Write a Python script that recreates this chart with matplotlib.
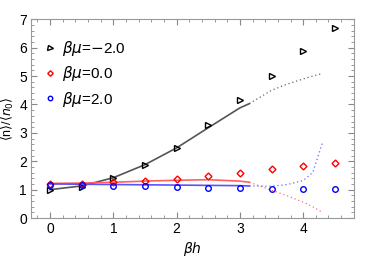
import numpy as np
import matplotlib
matplotlib.use('Agg')
import matplotlib.pyplot as plt
from matplotlib.ticker import MultipleLocator

plt.rcParams['font.family'] = ['Liberation Sans', 'DejaVu Sans']
plt.rcParams['mathtext.fontset'] = 'dejavusans'

# data points
bh = [0, 0.5, 1, 1.5, 2, 2.5, 3, 3.5, 4, 4.5]
n_m2 = [0.99, 1.08, 1.40, 1.87, 2.47, 3.28, 4.16, 5.02, 5.90, 6.70]
n_0 = [1.19, 1.21, 1.26, 1.32, 1.38, 1.48, 1.60, 1.71, 1.83, 1.93]
n_p2 = [1.17, 1.16, 1.14, 1.12, 1.10, 1.06, 1.05, 1.03, 1.03, 1.03]

# theory curves: solid part and dotted continuation
x_sol = [0, 0.5, 1, 1.5, 2, 2.5, 3, 3.15]
m2_sol = [1.00, 1.13, 1.42, 1.88, 2.47, 3.18, 3.88, 4.03]
z_sol = [1.22, 1.23, 1.26, 1.30, 1.33, 1.35, 1.30, 1.26]
p2_sol = [1.20, 1.19, 1.18, 1.17, 1.16, 1.15, 1.14, 1.13]

x_dot = [3.15, 3.5, 3.75, 4.0, 4.15, 4.3]
m2_dot = [4.03, 4.50, 4.72, 4.90, 5.00, 5.09]
z_dot = [1.26, 0.98, 0.78, 0.56, 0.40, 0.20]
p2_dot = [1.13, 1.12, 1.18, 1.32, 1.60, 2.62]

fig = plt.figure(figsize=(3.74, 2.58), dpi=100)
ax = fig.add_axes([0.083, 0.155, 0.863, 0.77])

dot = (0, (1, 2.2))
ax.plot(x_sol, m2_sol, color='#555555', lw=1.2)
ax.plot(x_dot, m2_dot, color='#666666', lw=0.9, ls=dot)
ax.plot(x_sol, z_sol, color='#ff6060', lw=1.2)
ax.plot(x_dot, z_dot, color='#ff7070', lw=0.9, ls=dot)
ax.plot(x_sol, p2_sol, color='#5555ff', lw=1.2)
ax.plot(x_dot, p2_dot, color='#6666ff', lw=0.9, ls=dot)

ax.plot(bh, n_m2, ls='none', marker='>', ms=4.5, mfc='none', mec='black', mew=1.0,
        label=r'$\beta\mu$=$-$2.0')
ax.plot(bh, n_0, ls='none', marker='D', ms=3.5, mfc='none', mec='red', mew=1.0,
        label=r'$\beta\mu$=0.0')
ax.plot(bh, n_p2, ls='none', marker='o', ms=4, mfc='none', mec='blue', mew=1.0,
        label=r'$\beta\mu$=2.0')

ax.set_xlim(-0.3, 4.8)
ax.set_ylim(0, 7)
ax.xaxis.set_major_locator(MultipleLocator(1))
ax.xaxis.set_minor_locator(MultipleLocator(0.2))
ax.yaxis.set_major_locator(MultipleLocator(1))
ax.yaxis.set_minor_locator(MultipleLocator(0.2))
ax.tick_params(which='both', direction='in', top=True, right=True, color='#888888',
               labelsize=10, pad=3)
ax.tick_params(which='major', length=4)
ax.tick_params(which='minor', length=2)
for s in ax.spines.values():
    s.set_color('#999999')

ax.set_xlabel(r'$\beta h$', fontsize=10, labelpad=3)
ax.set_ylabel(r'$\langle$n$\rangle$/$\langle n_0\rangle$', fontsize=9, labelpad=2)

leg = ax.legend(loc='upper left', frameon=False, fontsize=11, handletextpad=0.5,
                handlelength=0.6, labelspacing=0.4, borderaxespad=0.0,
                markerscale=0.8, bbox_to_anchor=(0.025, 0.93))

fig.savefig('out.png', dpi=100)
